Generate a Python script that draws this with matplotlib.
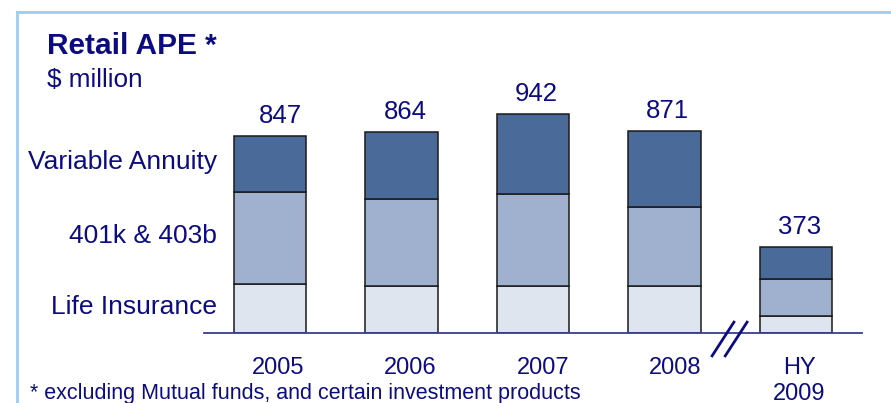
import matplotlib
matplotlib.use("Agg")
import matplotlib.pyplot as plt
from matplotlib.lines import Line2D
import numpy as np

# data ($ million)
years = ["2005", "2006", "2007", "2008", "HY\n2009"]
life_insurance = [212, 202, 202, 202, 73]
k401_403b = [394, 374, 398, 340, 162]
variable_annuity = [241, 288, 342, 329, 138]
totals = [847, 864, 942, 871, 373]
segment_names = ["Life Insurance", "401k & 403b", "Variable Annuity"]

# small horizontal nudges (px) of the text boxes, as placed in the original slide
total_dx = [10, 4, 3, 3, 4]
year_dx = [8, 9, 10, 11, 3]

NAVY = "#0c0c80"
COLORS = ["#dfe5ef", "#9fb1cf", "#4a6b9a"]
EDGE = "#1a1a1a"

plt.rcParams["font.family"] = ["Liberation Sans", "DejaVu Sans"]

W, H = 891, 403
PT = 72 / 100  # points per pixel at dpi 100
fig = plt.figure(figsize=(W / 100, H / 100), dpi=100)

# axes: baseline at y=333px, 0.2326 px per $m, bars every 131.5px
ax = fig.add_axes([204.25 / W, (H - 333.3) / H, 657.5 / W, 232.6 / H])
ax.set_xlim(-0.5, 4.5)
ax.set_ylim(0, 1000)

x = np.arange(len(years))
bar_w = 0.555
bottom = np.zeros(len(years))
for vals, color in zip([life_insurance, k401_403b, variable_annuity], COLORS):
    ax.bar(x, vals, bar_w, bottom=bottom, color=color, edgecolor=EDGE, linewidth=1.1, zorder=2)
    bottom += np.array(vals)

for xi, t, dx in zip(x, totals, total_dx):
    ax.annotate(str(t), (xi, t), xytext=(dx * PT, 13 * PT), textcoords="offset points",
                ha="center", va="baseline", fontsize=18.5, color=NAVY)

# year labels under the axis
for xi, lab, dx in zip(x, years, year_dx):
    ax.annotate(lab, (xi, 0), xytext=(dx * PT, -24 * PT),
                textcoords="offset points", ha="center", va="top", fontsize=17,
                color=NAVY, linespacing=1.2, multialignment="center")

# series labels next to the first bar
mids = np.cumsum([0] + [life_insurance[0], k401_403b[0]])
heights = [life_insurance[0], k401_403b[0], variable_annuity[0]]
for name, m, h in zip(segment_names, mids, heights):
    ax.annotate(name, (-0.403, m + h / 2), xytext=(0, -5 * PT), textcoords="offset points",
                ha="right", va="baseline", fontsize=19, color=NAVY, annotation_clip=False)

# break marks between 2008 and HY 2009
gap = (x[3] + x[4]) / 2
for dx in (-0.055, 0.045):
    ax.add_line(Line2D([gap + dx - 0.083, gap + dx + 0.083], [-97, 48],
                       color=NAVY, lw=2, clip_on=False, zorder=3))

for s in ["top", "right", "left"]:
    ax.spines[s].set_visible(False)
ax.spines["bottom"].set_color("#3a3a9a")
ax.spines["bottom"].set_linewidth(1.3)
ax.set_xticks([])
ax.set_yticks([])
ax.patch.set_alpha(0)

# titles and footnote
fig.text(47 / W, 1 - 53.5 / H, "Retail APE *", fontsize=21.5, fontweight="bold",
         color=NAVY, va="baseline", ha="left")
fig.text(47 / W, 1 - 87 / H, "$ million", fontsize=18.8, color=NAVY, va="baseline", ha="left")
fig.text(30 / W, 1 - 398.5 / H, "* excluding Mutual funds, and certain investment products",
         fontsize=15.5, color=NAVY, va="baseline", ha="left")

# light blue frame (top and left edges)
fig.add_artist(Line2D([17 / W, 17 / W], [0, 1 - 12 / H], color="#9ccbf5", lw=2,
                      transform=fig.transFigure))
fig.add_artist(Line2D([17 / W, 1], [1 - 12 / H, 1 - 12 / H], color="#9ccbf5", lw=2,
                      transform=fig.transFigure))

fig.savefig("out.png", dpi=100)
